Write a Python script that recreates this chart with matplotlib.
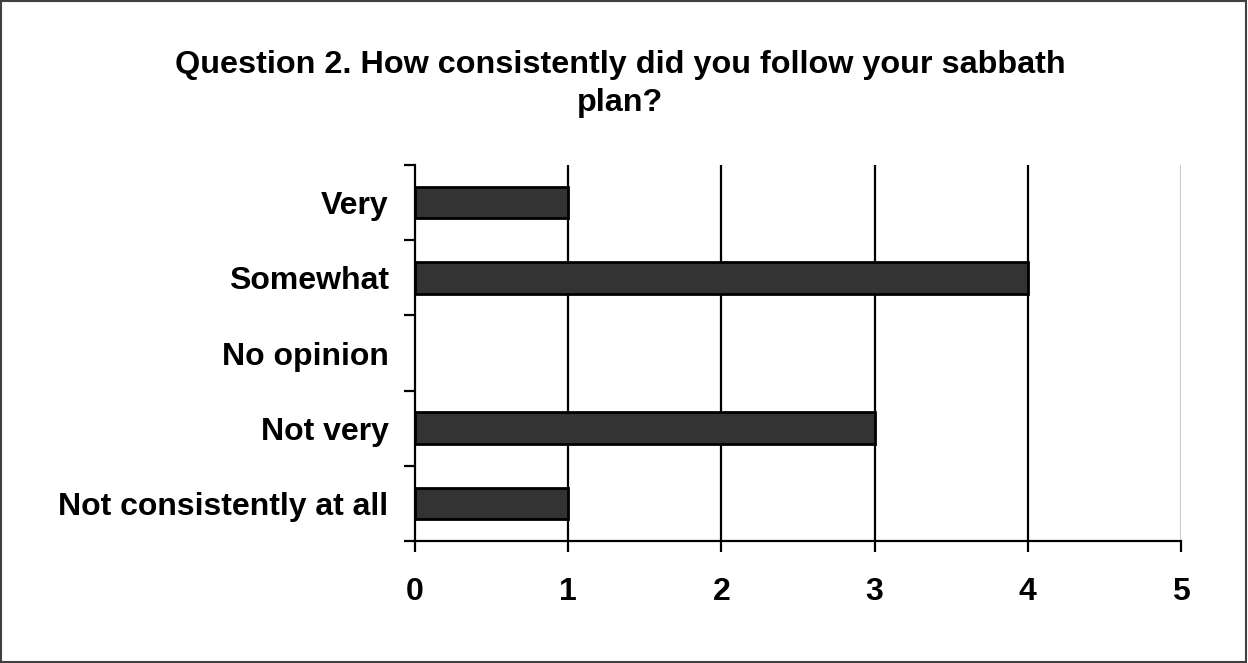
import matplotlib.pyplot as plt
import numpy as np

categories = ['Very', 'Somewhat', 'No opinion', 'Not very', 'Not consistently at all']
counts = [1, 4, 0, 3, 1]
x_ticks = [0, 1, 2, 3, 4, 5]

plt.rcParams['font.family'] = ['Liberation Sans', 'DejaVu Sans']
plt.rcParams['font.weight'] = 'bold'

fig = plt.figure(figsize=(12.48, 6.63), dpi=100)
ax = fig.add_axes([415 / 1248, 1 - 541 / 663, (1181 - 415) / 1248, (541 - 165) / 663])

# y positions: first category at top
ypos = np.arange(len(categories))[::-1]
edges = ['black' if c > 0 else 'none' for c in counts]
ax.barh(ypos, counts, height=0.42, color='#333333', edgecolor=edges, linewidth=2, zorder=3)

ax.set_xlim(0, 5)
ax.set_ylim(-0.5, len(categories) - 0.5)

# vertical gridlines
for v in x_ticks[1:-1]:
    ax.axvline(v, color='black', linewidth=1.6, zorder=2)
ax.axvline(5, color='#c0c0c0', linewidth=1.2, zorder=2)

for s in ['top', 'right']:
    ax.spines[s].set_visible(False)
ax.spines['left'].set_linewidth(1.6)
ax.spines['bottom'].set_linewidth(1.6)

ax.set_xticks(x_ticks)
ax.set_xticklabels([str(t) for t in x_ticks], fontsize=23, fontweight='bold')
ax.tick_params(axis='x', direction='out', length=8, width=1.6, pad=18)

ax.set_yticks(ypos)
ax.set_yticklabels(categories, fontsize=23, fontweight='bold')
ax.tick_params(axis='y', which='major', length=0, pad=19)
ax.set_yticks(np.arange(-0.5, len(categories)), minor=True)
ax.tick_params(axis='y', which='minor', direction='out', length=8, width=1.6)

fig.text(620 / 1248, 1 - 84 / 663,
         'Question 2. How consistently did you follow your sabbath\nplan?',
         ha='center', va='center', fontsize=23.3, fontweight='bold', linespacing=1.31)

# outer frame
fig.patches.append(plt.Rectangle((0.001, 0.002), 0.997, 0.996, transform=fig.transFigure,
                                 fill=False, edgecolor='#404040', linewidth=1.5))

fig.savefig('out.png', dpi=100)
